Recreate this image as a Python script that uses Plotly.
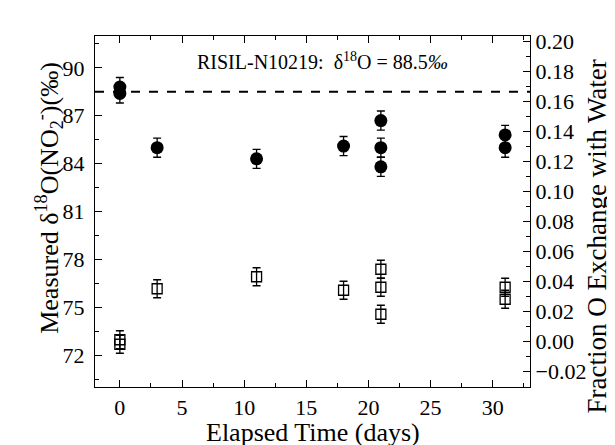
import plotly.graph_objects as go

# Filled circles: measured delta18O (left axis)
days_meas = [0, 0, 3, 11, 18, 21, 21, 21, 31, 31]
delta_meas = [88.8, 88.4, 85.0, 84.3, 85.1, 86.7, 85.0, 83.8, 85.8, 85.0]
delta_err = [0.6, 0.6, 0.6, 0.6, 0.6, 0.6, 0.6, 0.6, 0.6, 0.6]

# Open squares: fraction O exchange with water (right axis)
days_frac = [0, 0, 3, 11, 18, 21, 21, 21, 31, 31]
frac = [0.001, -0.002, 0.035, 0.043, 0.034, 0.048, 0.036, 0.018, 0.036, 0.028]
frac_err = [0.006, 0.006, 0.006, 0.006, 0.006, 0.006, 0.006, 0.006, 0.006, 0.006]

ref_value = 88.5
x_ticks = [0, 5, 10, 15, 20, 25, 30]
y_ticks = [72, 75, 78, 81, 84, 87, 90]
y2_ticks = [-0.02, 0.00, 0.02, 0.04, 0.06, 0.08, 0.10, 0.12, 0.14, 0.16, 0.18, 0.20]

FONT = "Liberation Serif, Times New Roman, DejaVu Serif, serif"

fig = go.Figure()
fig.add_trace(go.Scatter(
    x=days_meas, y=delta_meas, mode="markers",
    marker=dict(symbol="circle", size=13, color="black"),
    error_y=dict(type="data", array=delta_err, color="black", thickness=1.3, width=4),
    showlegend=False))
fig.add_trace(go.Scatter(
    x=days_frac, y=frac, mode="markers", yaxis="y2",
    marker=dict(symbol="square-open", size=10, color="black", line=dict(width=1.3)),
    error_y=dict(type="data", array=frac_err, color="black", thickness=1.3, width=4),
    showlegend=False))

fig.add_shape(type="line", xref="paper", yref="y", x0=0, x1=1, y0=ref_value, y1=ref_value,
              line=dict(color="black", width=2, dash="dash"))
fig.add_annotation(x=0.522, xref="paper", y=90.45, yref="y",
                   text="RISIL-N10219:  δ<sup>18</sup>O = 88.5<i>‰</i>",
                   showarrow=False, font=dict(family=FONT, size=20, color="black"))

# Axis titles as annotations for precise placement
fig.add_annotation(x=-0.105, xref="paper", y=0.54, yref="paper", textangle=-90,
                   text="Measured δ<sup>18</sup>O(NO<sub>2</sub><sup>-</sup>)(‰)",
                   showarrow=False, xanchor="center", yanchor="middle",
                   font=dict(family=FONT, size=26, color="black"))
fig.add_annotation(x=1.155, xref="paper", y=0.43, yref="paper", textangle=-90,
                   text="Fraction O Exchange with Water",
                   showarrow=False, xanchor="center", yanchor="middle",
                   font=dict(family=FONT, size=27, color="black"))
fig.add_annotation(x=0.5, xref="paper", y=-0.13, yref="paper",
                   text="Elapsed Time (days)",
                   showarrow=False, xanchor="center", yanchor="middle",
                   font=dict(family=FONT, size=26, color="black"))

axis_common = dict(showline=True, linecolor="black", linewidth=1.3, ticks="inside",
                   ticklen=7, tickwidth=1.3, tickcolor="black", showgrid=False, zeroline=False,
                   tickfont=dict(family=FONT, size=22, color="black"))

fig.update_layout(
    width=615, height=445,
    margin=dict(l=87, r=93, t=28, b=66),
    plot_bgcolor="white", paper_bgcolor="white",
    font=dict(family=FONT),
    xaxis=dict(range=[-2, 33], tickvals=x_ticks, mirror="ticks",
               minor=dict(ticks="inside", ticklen=4, tickwidth=1.3, tickcolor="black", dtick=2.5),
               **axis_common),
    yaxis=dict(range=[70, 92], tickvals=y_ticks, ticklabelstandoff=5,
               minor=dict(ticks="inside", ticklen=4, tickwidth=1.3, tickcolor="black", dtick=1.5),
               **axis_common),
    yaxis2=dict(range=[-0.0305, 0.2035], overlaying="y", side="right", tickvals=y2_ticks,
                tickformat=".2f",
                minor=dict(ticks="inside", ticklen=4, tickwidth=1.3, tickcolor="black", dtick=0.01),
                **axis_common),
)

fig.write_html("out.html")
